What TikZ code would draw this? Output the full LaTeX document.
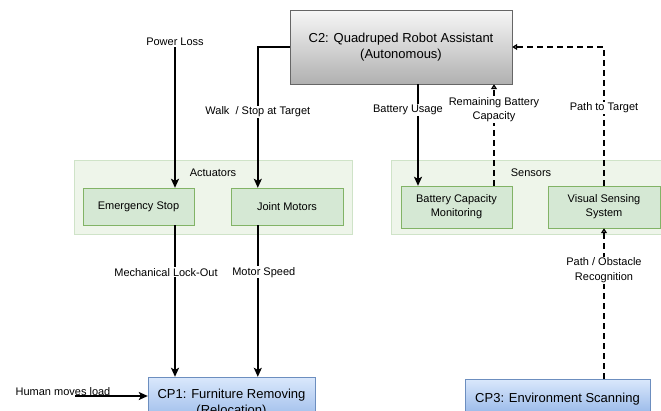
\documentclass[tikz,border=0pt]{standalone}
\usepackage{fontspec}
\setmainfont{Liberation Sans}
\usepackage{xcolor}
\definecolor{cGroup}{HTML}{EEF5EA}
\definecolor{cGroupLine}{HTML}{CFE3C8}
\definecolor{cGreen}{HTML}{D5E8D4}
\definecolor{cGreenLine}{HTML}{82B366}
\definecolor{cBlueTop}{HTML}{DAE8FC}
\definecolor{cBlueBot}{HTML}{8FB2E6}
\definecolor{cBlueLine}{HTML}{6C8EBF}
\definecolor{cGrayTop}{HTML}{F7F7F7}
\definecolor{cGrayBot}{HTML}{B0B0B0}
\definecolor{cGrayLine}{HTML}{666666}
\usetikzlibrary{positioning,arrows.meta}
\tikzset{
  group-box/.style={draw=cGroupLine,fill=cGroup,minimum height=74pt},
  node-part/.style={draw=cGreenLine,fill=cGreen,align=center,
    font=\fontsize{11}{14}\selectfont,minimum width=111pt},
  node-sys/.style={draw=cBlueLine,top color=cBlueTop,bottom color=cBlueBot,
    align=center,font=\fontsize{13}{16}\selectfont},
  node-main/.style={draw=cGrayLine,top color=cGrayTop,bottom color=cGrayBot,
    align=center,font=\fontsize{13}{16.5}\selectfont,
    minimum width=222pt,minimum height=74pt},
  lbl/.style={fill=white,inner sep=1pt,align=center,
    font=\fontsize{11}{14.5}\selectfont},
  arrow/.style={-{Stealth[length=9pt,width=8pt,inset=2pt]},line width=1.5pt},
  arrow-data/.style={-{Triangle[open,length=5pt,width=6pt]},line width=1.5pt,
    dash pattern=on 6pt off 4pt},
}
\begin{document}
\begin{tikzpicture}[x=1pt,y=-1pt]
  \clip (0,0) rectangle (661,410);
  % subsystems
  \node[group-box,minimum width=278pt,
    label={[name=actlbl,anchor=center,yshift=-13pt,font=\fontsize{11}{13}\selectfont]north:Actuators}]
    (act) at (213,197) {};
  \node[group-box,minimum width=280pt,
    label={[name=senlbl,anchor=center,yshift=-13pt,font=\fontsize{11}{13}\selectfont]north:Sensors}]
    (sen) at (531,197) {};
  \node[node-part,minimum height=37pt] (estop) at (138.5,206.5) {Emergency Stop};
  \node[node-part,minimum height=37pt,minimum width=112pt] (jmot) at (287,206.5) {Joint Motors};
  \node[node-part,minimum height=42pt] (batt) at (456.5,207) {Battery Capacity\\Monitoring};
  \node[node-part,minimum height=42pt,minimum width=112pt] (vis) at (604,207) {Visual Sensing\\System};
  % systems
  \node[node-main] (c2) at (401,47) {C2: Quadruped Robot Assistant\\(Autonomous)};
  \node[node-sys,minimum width=167pt,minimum height=52pt] (cp1) at (231.5,403) {CP1: Furniture Removing\\(Relocation)};
  \node[node-sys,minimum width=185pt,minimum height=40pt] (cp3) at (557.5,399) {CP3: Environment Scanning};
  % inputs
  \node[lbl] (ploss) at (175,42) {Power Loss};
  \node[lbl,fill=none] (human) at (63,392) {Human moves load};
  \coordinate (hstart) at (75,396);
  % flows
  \draw[arrow] (ploss.south) -- (ploss.south |- estop.north);
  \draw[arrow] (c2.west) -| ([xshift=27pt]jmot.north west)
    node[lbl,pos=0.73] {Walk\ \ / Stop at Target};
  \draw[arrow] (ploss.south |- estop.south) -- (ploss.south |- cp1.north)
    node[lbl,pos=0.31,xshift=-9pt] {Mechanical Lock-Out};
  \draw[arrow] ([xshift=27pt]jmot.south west) -- ([xshift=27pt]jmot.south west |- cp1.north)
    node[lbl,pos=0.31,xshift=6pt] {Motor Speed};
  \draw[arrow] (hstart) -- (cp1.west |- hstart);
  \draw[arrow] ([xshift=17pt]c2.south) -- ([xshift=17pt]c2.south |- batt.north)
    node[lbl,pos=0.25,xshift=-10pt] {Battery Usage};
  \draw[arrow-data] ([xshift=37.5pt]batt.north) -- ([xshift=37.5pt]batt.north |- c2.south)
    node[lbl,pos=0.75] {Remaining Battery\\Capacity};
  \draw[arrow-data] (vis.north) |- (c2.east)
    node[lbl,pos=0.28] {Path to Target};
  \draw[arrow-data] (vis.south |- cp3.north) -- (vis.south)
    node[lbl,pos=0.72] {Path / Obstacle\\Recognition};
\end{tikzpicture}
\end{document}
